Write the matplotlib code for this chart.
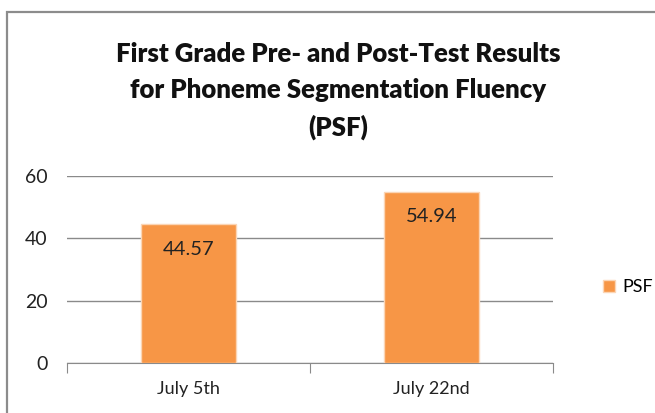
import matplotlib.pyplot as plt
from matplotlib.patches import Rectangle

# PSF scores
dates = ['July 5th', 'July 22nd']
psf = [44.57, 54.94]
yticks = [0, 20, 40, 60]

W, H = 655, 413
fig = plt.figure(figsize=(W / 100, H / 100), dpi=100)
plt.rcParams['font.family'] = ['Lato', 'DejaVu Sans']

# chart border (runs off the right and bottom edges)
fig.patches.append(Rectangle((7 / W, -0.1), 1.2, (H - 12) / H + 0.1,
                             transform=fig.transFigure, fill=False,
                             edgecolor='#8c8c8c', linewidth=1.6))

ax = fig.add_axes([67 / W, (H - 363) / H, (553 - 67) / W, (363 - 176) / H])
x = [0, 1]
ax.bar(x, psf, width=0.39, color='#F79646', edgecolor='#fbd5b5', linewidth=1.0,
       label='PSF', zorder=3)
for xi, v in zip(x, psf):
    ax.text(xi, v - 8, f'{v:.2f}', ha='center', va='center', fontsize=14.5, color='#222222', zorder=4)

ax.set_xlim(-0.5, 1.5)
ax.set_ylim(0, 60)
ax.set_yticks(yticks)
ax.grid(axis='y', color='#8a8a8a', linewidth=1.0, zorder=0)
for s in ['top', 'right', 'left']:
    ax.spines[s].set_visible(False)
ax.spines['bottom'].set_color('#8a8a8a')
ax.tick_params(axis='y', length=0, labelsize=14, pad=14, labelcolor='#222222')
ax.set_xticks([-0.5, 0.5, 1.5], minor=False)
ax.set_xticklabels([])
ax.tick_params(axis='x', which='major', length=7, color='#8a8a8a', direction='out')
ax.set_xticks(x, minor=True)
ax.set_xticklabels(dates, minor=True)
ax.tick_params(axis='x', which='minor', length=0, labelsize=13, pad=13, labelcolor='#222222')

fig.legend(loc='center left', bbox_to_anchor=(587 / W, (H - 287) / H), frameon=False,
           fontsize=13, handlelength=0.65, handleheight=0.65, handletextpad=0.4)

fig.text(338 / W, (H - 91) / H, 'First Grade Pre- and Post-Test Results\nfor Phoneme Segmentation Fluency\n(PSF)',
         ha='center', va='center', fontsize=18.5, fontweight='heavy', linespacing=1.6, color='#111111')

fig.savefig('out.png', dpi=100)
